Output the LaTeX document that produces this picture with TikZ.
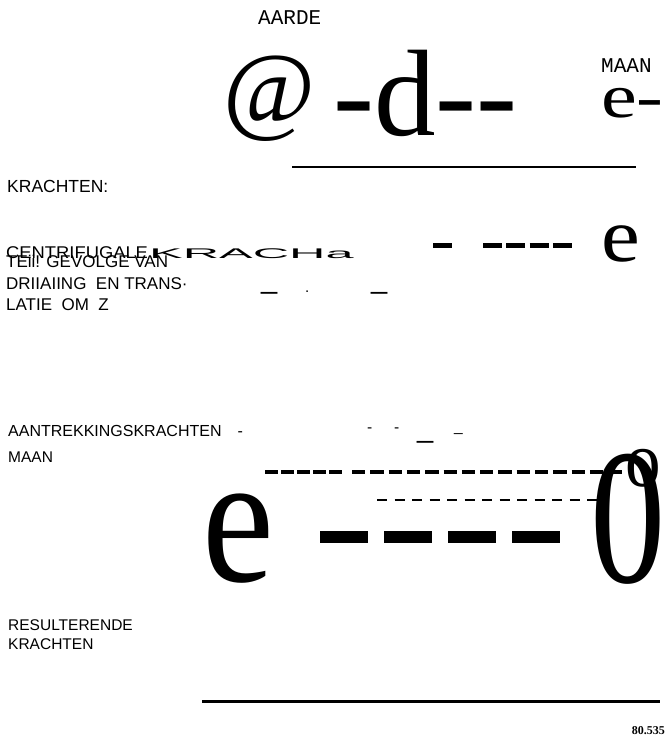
\documentclass[tikz,border=0pt]{standalone}
\usepackage{fontspec}
\setmainfont{Liberation Serif}
\setsansfont{Liberation Sans}
\setmonofont{Liberation Mono}

\begin{document}
\begin{tikzpicture}[x=1pt,y=-1pt,
    seriftxt/.style={anchor=base west, inner sep=0pt, font=\rmfamily\fontsize{#1}{#1}\selectfont},
    sanstxt/.style={anchor=base west, inner sep=0pt, font=\sffamily\fontsize{#1}{#1}\selectfont},
    sanstxt/.default=15.5,
    monotxt/.style={anchor=base west, inner sep=0pt, font=\ttfamily\fontsize{21}{21}\selectfont}]
    \useasboundingbox (0,0) rectangle (666,738);

    % earth and moon
    \node[monotxt] (aarde) at (258,25) {AARDE};
    \node[monotxt] (maanTop) at (601,73) {MAAN};
    \node[seriftxt=100] (earth) at (223,123) {@};
    \node[seriftxt=123] (stem) at (333,136) {-d-\kern0pt-};
    \node[seriftxt=62] (moonTop) at (601,118) {\scalebox{1.3}[1]{e-}};
    \draw[line width=1.6pt] (292,167) -- (636,167);

    % centrifugal forces
    \node[sanstxt=17.5] (krachten) at (7,193) {KRACHTEN:};
    \node[sanstxt=17] (centri) at (6,258) {\scalebox{1.08}[1]{CENTRIFUGALE}};
    \node[sanstxt=17] (gevolge) at (6,267) {TEii! GEVOLGE VAN};
    \node[sanstxt=17] (draaiing) at (6,289) {DRIIAIING\ \ EN TRANS·};
    \node[sanstxt=17] (latie) at (6,310) {LATIE\ \ OM\ \ Z};
    \node[sanstxt=14] (kracha) at (149,258) {\scalebox{3.6}[1]{KRACHa}};

    \node[sanstxt=29] (underA) at (261,288) {\_};
    \node[sanstxt=15] (dotA) at (305,292) {.};
    \node[sanstxt=29] (underB) at (371,288) {\_};

    \draw[line width=5pt] (433,245) -- (452,245);
    \draw[line width=5pt, dash pattern=on 19pt off 4.3pt] (483,245) -- (572,245);
    \node[seriftxt=76] (moonMid) at (601,261) {\scalebox{1.15}[1]{e}};

    % attraction of the moon
    \node[sanstxt=16] (aantrek) at (8,436) {AANTREKKINGSKRACHTEN\hspace{16pt}-};
    \node[sanstxt] (maanLow) at (8,462) {MAAN};
    \node[sanstxt] (hyA) at (367,432) {-};
    \node[sanstxt] (hyB) at (394,432) {-};
    \node[sanstxt=29] (underC) at (417,437) {\_};
    \node[sanstxt] (underD) at (454,431) {\_};

    \draw[line width=3.5pt, dash pattern=on 12.5pt off 3.5pt] (265,472) -- (345,472);
    \draw[line width=4pt, dash pattern=on 13.3pt off 5pt] (352,472) -- (622,472);
    \draw[line width=2.3pt, dash pattern=on 10pt off 7.5pt] (377,500) -- (597,500);

    \node[seriftxt=186] (moonLow) at (202,581) {\scalebox{.87}[1]{e}};
    \draw[line width=12pt, dash pattern=on 48pt off 16pt] (320,537) -- (560,537);
    \node[seriftxt=193] (zero) at (590,582) {\scalebox{.78}[1]{0}};
    \node[seriftxt=79] (ring) at (625,486) {\scalebox{.9}[1]{o}};

    % resultant
    \node[sanstxt] (result) at (8,630) {RESULTERENDE};
    \node[sanstxt] (krachtenLow) at (8,649) {KRACHTEN};
    \draw[line width=3pt] (202,701) -- (660,701);
    \node[anchor=base east, inner sep=0pt, font=\rmfamily\bfseries\fontsize{12}{12}\selectfont] (fignum) at (665,734) {80.535};
\end{tikzpicture}
\end{document}
